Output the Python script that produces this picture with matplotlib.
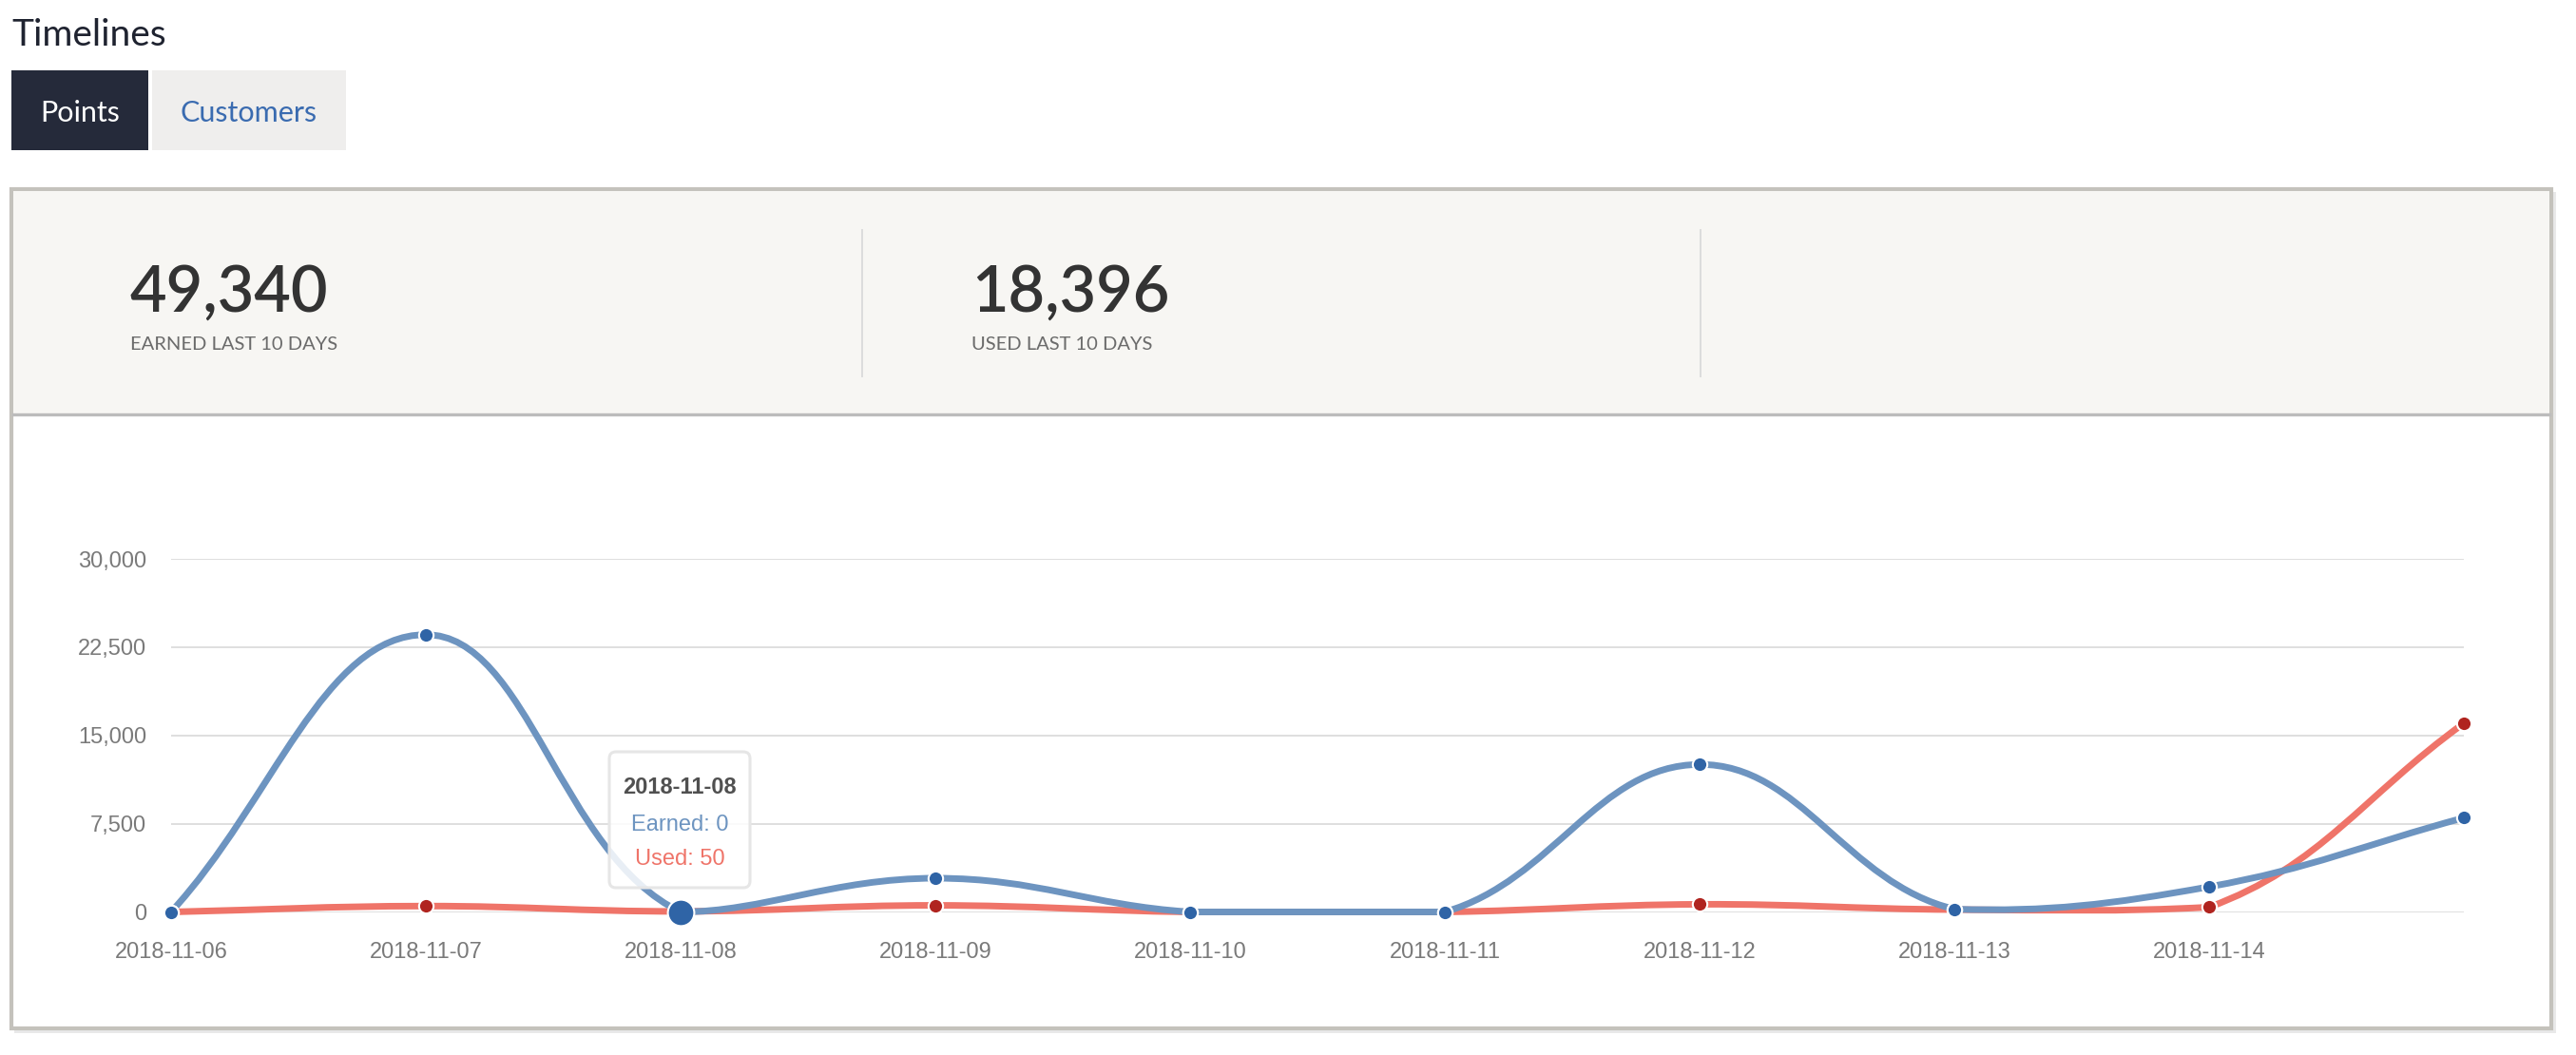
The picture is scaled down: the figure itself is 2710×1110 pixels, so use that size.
import numpy as np
import matplotlib
matplotlib.use('Agg')
from matplotlib import pyplot as plt
from matplotlib.path import Path
from matplotlib.patches import PathPatch, Rectangle, FancyBboxPatch
from matplotlib.ticker import StrMethodFormatter

# chart data
dates = ['2018-11-06', '2018-11-07', '2018-11-08', '2018-11-09', '2018-11-10',
         '2018-11-11', '2018-11-12', '2018-11-13', '2018-11-14', '2018-11-15']
earned = [0, 23560, 0, 2867, 0, 0, 12533, 240, 2140, 8000]
used = [0, 500, 50, 560, 0, 0, 650, 200, 406, 16030]
y_ticks = [0, 7500, 15000, 22500, 30000]
tabs = ['Points', 'Customers']
hover_idx = 2

W, H = 2710, 1110
BLUE_LINE, BLUE_DOT = '#6d94c0', '#2f64a6'
RED_LINE, RED_DOT = '#ef7469', '#b0241f'
UI_FONT = ['Lato', 'DejaVu Sans']

plt.rcParams['font.family'] = ['Liberation Sans', 'DejaVu Sans']


def spline_path(ax, xs, ys, tension=0.4):
    """Smooth line like chart.js: cardinal spline, control points kept inside the plot area."""
    pts = ax.transData.transform(np.column_stack([xs, ys]).astype(float))
    n = len(pts)
    prev_cp = np.zeros_like(pts)
    next_cp = np.zeros_like(pts)
    for i in range(n):
        cur = pts[i]
        before = pts[i - 1] if i > 0 else cur
        after = pts[i + 1] if i < n - 1 else cur
        d01 = np.hypot(*(cur - before))
        d12 = np.hypot(*(after - cur))
        tot = d01 + d12
        s01 = d01 / tot if tot else 0
        s12 = d12 / tot if tot else 0
        prev_cp[i] = cur - tension * s01 * (after - before)
        next_cp[i] = cur + tension * s12 * (after - before)
    x0, y0, x1, y1 = ax.bbox.extents
    for cp in (prev_cp, next_cp):
        cp[:, 0] = np.clip(cp[:, 0], x0, x1)
        cp[:, 1] = np.clip(cp[:, 1], y0, y1)
    verts = [pts[0]]
    codes = [Path.MOVETO]
    for i in range(n - 1):
        verts += [next_cp[i], prev_cp[i + 1], pts[i + 1]]
        codes += [Path.CURVE4] * 3
    return Path(ax.transData.inverted().transform(np.array(verts)), codes)


fig = plt.figure(figsize=(W / 100, H / 100), dpi=100)

# page background in pixel coordinates (origin top-left)
bg = fig.add_axes([0, 0, 1, 1])
bg.set_xlim(0, W)
bg.set_ylim(H, 0)
bg.axis('off')

bg.text(12, 48, 'Timelines', fontsize=28, color='#1f2330', family=UI_FONT)

# tabs
bg.add_patch(Rectangle((12, 74), 144, 84, color='#252a3a', lw=0))
bg.add_patch(Rectangle((160, 74), 204, 84, color='#efeeed', lw=0))
bg.text(84, 128, tabs[0], fontsize=22, color='white', ha='center', family=UI_FONT)
bg.text(262, 128, tabs[1], fontsize=22, color='#3a6bb0', ha='center', family=UI_FONT)

# panel with shadow, stats header and chart area
bg.add_patch(Rectangle((15, 202), 2674, 885, color='#e9e9e9', lw=0))
bg.add_patch(Rectangle((12, 199), 2672, 883, facecolor='white',
                       edgecolor='#c4c2bc', lw=3))
bg.add_patch(Rectangle((14, 201), 2668, 235, color='#f7f6f3', lw=0))
bg.plot([14, 2682], [436, 436], color='#bcbcbc', lw=2.4)
for xd in (907, 1789):
    bg.plot([xd, xd], [242, 396], color='#dcdcdc', lw=1.4)

stats = [(137, sum(earned), 'EARNED LAST 10 DAYS'),
         (1022, sum(used), 'USED LAST 10 DAYS')]
for x0, total, label in stats:
    bg.text(x0, 328, f'{total:,}', fontsize=48, weight='semibold',
            color='#333333', family=UI_FONT)
    bg.text(x0, 368, label, fontsize=14.5, color='#6b6b6b', family=UI_FONT)

# chart
ax = fig.add_axes([180 / W, 1 - 959.5 / H, (2592 - 180) / W, 371.5 / H])
ax.set_facecolor('none')
x = np.arange(len(dates))
ax.set_xlim(0, len(dates) - 1)
ax.set_ylim(y_ticks[0], y_ticks[-1])
for sp in ax.spines.values():
    sp.set_visible(False)
ax.set_yticks(y_ticks)
ax.yaxis.set_major_formatter(StrMethodFormatter('{x:,.0f}'))
ax.set_xticks(x[:-1])
ax.set_xticklabels(dates[:-1])
ax.tick_params(axis='both', length=0, labelsize=17, labelcolor='#7a7a7a')
ax.tick_params(axis='y', pad=18.7)
ax.tick_params(axis='x', pad=23)
ax.yaxis.grid(True, color='#d6d6d6', lw=1.1)
ax.set_axisbelow(True)

for vals, col, z in ((used, RED_LINE, 3), (earned, BLUE_LINE, 4)):
    ax.add_patch(PathPatch(spline_path(ax, x, vals), fill=False, edgecolor=col,
                           lw=5, capstyle='round', joinstyle='round',
                           zorder=z, clip_on=False))

ax.plot(x, used, 'o', ms=11, mfc=RED_DOT, mec='white', mew=1.5,
        zorder=5, clip_on=False)
ax.plot(x, earned, 'o', ms=11, mfc=BLUE_DOT, mec='white', mew=1.5,
        zorder=6, clip_on=False)
ax.plot(x[hover_idx], earned[hover_idx], 'o', ms=20, mfc=BLUE_DOT,
        mec='white', mew=1.5, zorder=7, clip_on=False)

# tooltip overlay
top = fig.add_axes([0, 0, 1, 1], zorder=5)
top.set_xlim(0, W)
top.set_ylim(H, 0)
top.axis('off')
top.add_patch(FancyBboxPatch((641, 791), 148, 143,
                             boxstyle='round,pad=0,rounding_size=7',
                             facecolor=(1, 1, 1, 0.85), edgecolor='#e6e6e6', lw=2.2))
top.text(715, 826, dates[hover_idx], fontsize=17, weight='bold', color='#505050',
         ha='center', va='center_baseline')
top.text(715, 866, f'Earned: {earned[hover_idx]:,}', fontsize=17, color=BLUE_LINE,
         ha='center', va='center_baseline')
top.text(715, 902, f'Used: {used[hover_idx]:,}', fontsize=17, color=RED_LINE,
         ha='center', va='center_baseline')

fig.savefig('out.png', dpi=100)
